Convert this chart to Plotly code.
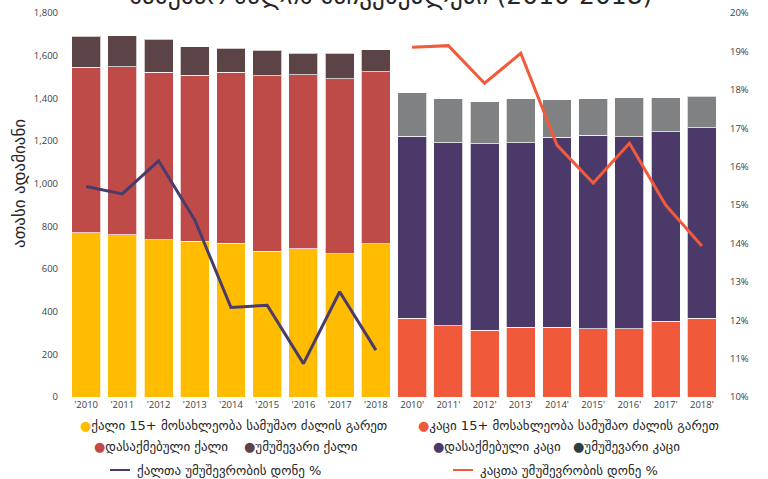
import plotly.graph_objects as go

women_years = ["'2010", "'2011", "'2012", "'2013", "'2014", "'2015", "'2016", "'2017", "'2018"]
men_years = ["2010'", "2011'", "2012'", "2013'", "2014'", "2015'", "2016'", "2017'", "2018'"]
categories = women_years + men_years

women_out = [769, 761, 737, 731, 720, 684, 695, 672, 719]
women_employed = [776, 787, 785, 777, 802, 821, 816, 819, 806]
women_unemployed = [146, 146, 155, 134, 112, 120, 100, 120, 103]
men_out = [370, 333, 314, 328, 328, 319, 319, 356, 370]
men_employed = [853, 859, 872, 864, 889, 909, 901, 888, 892]
men_unemployed = [203, 206, 197, 206, 177, 170, 182, 158, 147]
women_rate = [15.48, 15.29, 16.15, 14.61, 12.33, 12.39, 10.87, 12.74, 11.22]
men_rate = [19.11, 19.15, 18.17, 18.95, 16.56, 15.57, 16.61, 15.00, 13.93]

left_ticks = [0, 200, 400, 600, 800, 1000, 1200, 1400, 1600, 1800]
right_ticks = [0.10, 0.11, 0.12, 0.13, 0.14, 0.15, 0.16, 0.17, 0.18, 0.19, 0.20]

title_text = "სამუშაო ძალის მაჩვენებლები (2010-2018)"
ytitle = "ათასი ადამიანი"
legend_items = [
    ("ქალი 15+ მოსახლეობა სამუშაო ძალის გარეთ", "#FFBC00", 83, 425),
    ("კაცი 15+ მოსახლეობა სამუშაო ძალის გარეთ", "#F05A3A", 421, 425),
    ("დასაქმებული ქალი", "#BE4B48", 97, 446),
    ("უმუშევარი ქალი", "#5B4346", 247, 446),
    ("დასაქმებული კაცი", "#4B3A69", 436, 446),
    ("უმუშევარი კაცი", "#2F3D3D", 576, 446),
]
line_legend = [
    ("ქალთა უმუშევრობის დონე %", "#4B3A69", 110, 470),
    ("კაცთა უმუშევრობის დონე %", "#F15A3A", 453, 470),
]

c_wout, c_wemp, c_wun = "#FFBC00", "#BE4B48", "#5B4346"
c_mout, c_memp, c_mun = "#F05A3A", "#4B3A69", "#808183"
outline = dict(color="rgba(255,255,255,0.7)", width=1)

fig = go.Figure()
for x, y, c in [(women_years, women_out, c_wout), (women_years, women_employed, c_wemp),
                (women_years, women_unemployed, c_wun), (men_years, men_out, c_mout),
                (men_years, men_employed, c_memp), (men_years, men_unemployed, c_mun)]:
    fig.add_trace(go.Bar(x=x, y=y, marker=dict(color=c, line=outline), showlegend=False))

fig.add_trace(go.Scatter(x=women_years, y=[v / 100 for v in women_rate], yaxis="y2", mode="lines",
                         line=dict(color="#4A3B6B", width=3), showlegend=False))
fig.add_trace(go.Scatter(x=men_years, y=[v / 100 for v in men_rate], yaxis="y2", mode="lines",
                         line=dict(color="#F15A3A", width=3), showlegend=False))

L, R, T, B = 68, 48, 13, 82
W, H = 768, 479
pw, ph = W - L - R, H - T - B


def px(x):
    return (x - L) / pw


def py(y):
    return (H - B - y) / ph


annotations = []
for text, color, x, y in legend_items:
    annotations.append(dict(xref="paper", yref="paper", x=px(x - 5), y=py(y), xanchor="left", yanchor="middle",
                            text=f"<span style='color:{color}'>●</span>{text}", showarrow=False,
                            font=dict(family="DejaVu Sans", size=13, color="#262626")))
shapes = []
for text, color, x, y in line_legend:
    shapes.append(dict(type="line", xref="paper", yref="paper", x0=px(x), x1=px(x + 20), y0=py(y), y1=py(y),
                       line=dict(color=color, width=2)))
    annotations.append(dict(xref="paper", yref="paper", x=px(x + 25), y=py(y), xanchor="left", yanchor="middle",
                            text=text, showarrow=False,
                            font=dict(family="DejaVu Sans", size=13, color="#262626")))

annotations.append(dict(xref="paper", yref="paper", x=px(19), y=py(184), xanchor="center", yanchor="middle",
                        text=ytitle, textangle=-90, showarrow=False,
                        font=dict(family="DejaVu Sans", size=17, color="#262626")))
annotations.append(dict(xref="paper", yref="paper", x=px(390), y=py(-5), xanchor="center", yanchor="middle",
                        text=title_text, showarrow=False,
                        font=dict(family="DejaVu Sans", size=25, color="#262626")))

tickfont = dict(family="Open Sans", size=9.5, color="#404040")
fig.update_layout(
    width=W, height=H,
    margin=dict(l=L, r=R, t=T, b=B, autoexpand=False),
    barmode="stack", bargap=0.2,
    plot_bgcolor="white", paper_bgcolor="white",
    xaxis=dict(type="category", categoryorder="array", categoryarray=categories, automargin=False,
               tickfont=tickfont, showgrid=False, showline=False, ticks=""),
    yaxis=dict(range=[0, 1800], tickvals=left_ticks, tickformat=",", showgrid=False, zeroline=False,
               automargin=False, tickfont=tickfont, ticks="", ticklabelstandoff=9),
    yaxis2=dict(range=[0.10, 0.20], tickvals=right_ticks, tickformat=".0%", overlaying="y", side="right",
                automargin=False, showgrid=False, zeroline=False, tickfont=tickfont, ticklabelstandoff=9),
    annotations=annotations, shapes=shapes,
)

fig.write_html("out.html", config={"displayModeBar": False},
               post_script="document.body.style.margin='0';")
